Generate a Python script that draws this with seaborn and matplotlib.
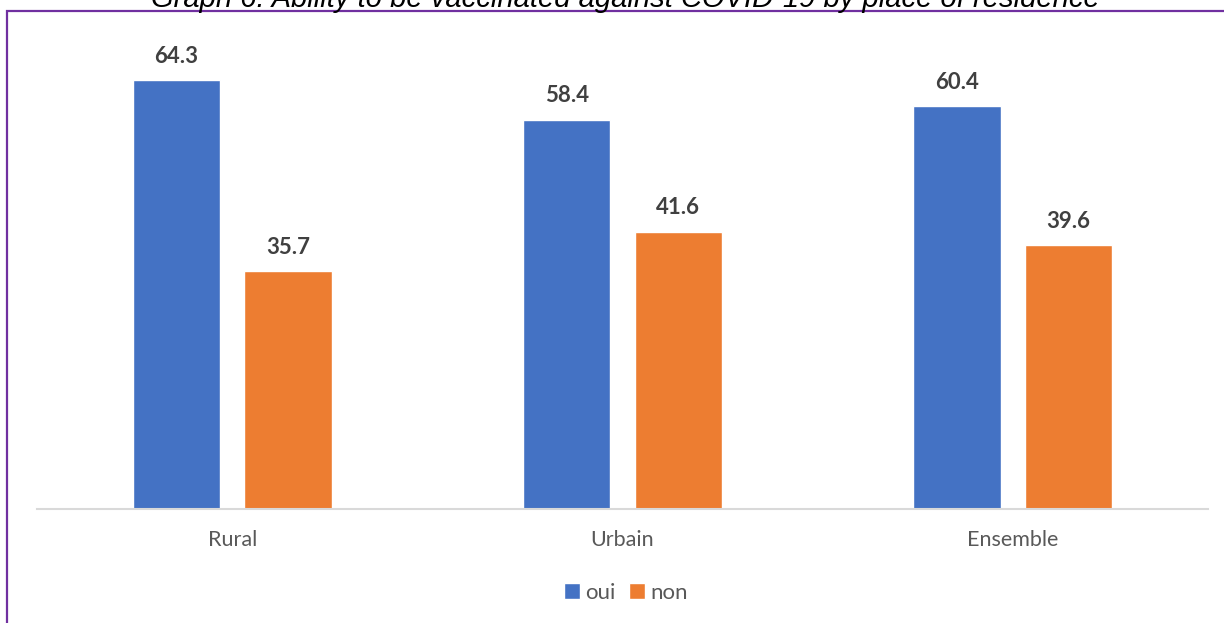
import matplotlib
matplotlib.use("Agg")
import matplotlib.pyplot as plt
from matplotlib.patches import Rectangle, Patch
import seaborn as sns
import pandas as pd

categories = ["Rural", "Urbain", "Ensemble"]
series_names = ["oui", "non"]
oui_values = [64.3, 58.4, 60.4]
non_values = [35.7, 41.6, 39.6]
title_text = "Graph 6: Ability to be vaccinated against COVID-19 by place of residence"

df = pd.DataFrame({
    "lieu": categories * 2,
    "reponse": [series_names[0]] * 3 + [series_names[1]] * 3,
    "pct": oui_values + non_values,
})

sns.set_theme(style="white")
plt.rcParams["font.family"] = ["Lato", "DejaVu Sans"]

W, H = 1224, 623
fig = plt.figure(figsize=(W / 100, H / 100), dpi=100)
ax = fig.add_axes([37 / W, 1 - 509 / H, (1208 - 37) / W, (509 - 37) / H])

palette = {"oui": "#4472C4", "non": "#ED7D31"}
sns.barplot(data=df, x="lieu", y="pct", hue="reponse", order=categories,
            hue_order=series_names, palette=palette, width=0.572, gap=0.22,
            saturation=1, errorbar=None, ax=ax, legend=False)

for cont in ax.containers:
    ax.bar_label(cont, fmt="%.1f", padding=9.5, fontsize=16, fontweight="bold",
                 color="#404040")

ax.set_ylim(0, 70.8)
ax.set_xlim(-0.5, 2.5)
ax.set_xlabel("")
ax.set_ylabel("")
ax.set_yticks([])
for s in ["top", "left", "right"]:
    ax.spines[s].set_visible(False)
ax.spines["bottom"].set_color("#D9D9D9")
ax.spines["bottom"].set_linewidth(1.5)
ax.tick_params(axis="x", length=0, pad=15, labelsize=15.5, labelcolor="#595959")

handles = [Patch(facecolor=palette[n], label=n) for n in series_names]
fig.legend(handles=handles, loc="center", bbox_to_anchor=(626 / W, 1 - 593 / H),
           ncol=2, frameon=False, fontsize=16, handlelength=0.7, handleheight=0.7,
           handletextpad=0.25, columnspacing=0.6, labelcolor="#595959")

# outer frame of the chart area
fig.patches.append(Rectangle((7 / W, -0.05), 1.1, 1 - 11 / H + 0.05,
                             transform=fig.transFigure, fill=False,
                             edgecolor="#7030A0", linewidth=1.6))

fig.text(625 / W, 1 - 7 / H, title_text, ha="center", va="baseline", fontsize=21,
         style="italic", family=["Liberation Sans", "DejaVu Sans"], color="#000000")

fig.savefig("out.png", dpi=100, facecolor="white")
